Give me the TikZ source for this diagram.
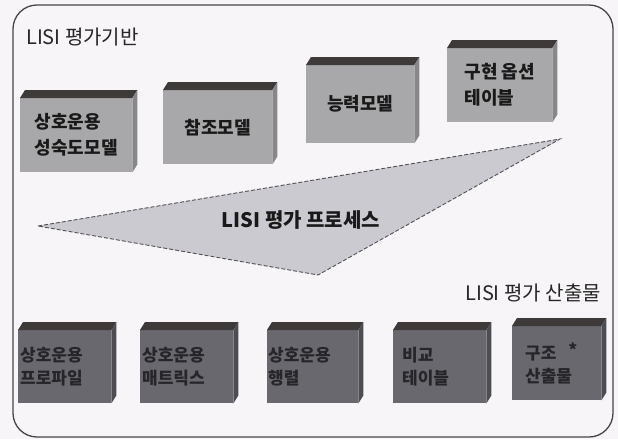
\documentclass[tikz,border=0pt]{standalone}
\usepackage{fontspec}
\setmainfont{Noto Sans CJK KR}
\usetikzlibrary{calc}
\definecolor{bg}{RGB}{247,245,247}
\definecolor{framec}{RGB}{70,70,72}
\definecolor{topfront}{RGB}{168,168,170}
\definecolor{topside}{RGB}{135,135,138}
\definecolor{botfront}{RGB}{104,104,110}
\definecolor{botside}{RGB}{76,76,82}
\definecolor{stripc}{RGB}{62,58,58}
\definecolor{trifill}{RGB}{202,202,208}
\definecolor{tridash}{RGB}{80,80,85}
\definecolor{bottext}{RGB}{38,38,42}
\newcommand\cubefaces[3]{%
  \fill[#2] (#1.north west) -- ++(5,-8) -- ($(#1.north east)+(5,-8)$) -- (#1.north east) -- cycle;
  \fill[#3] (#1.north east) -- ++(5,-8) -- ($(#1.south east)+(5,-8)$) -- (#1.south east) -- cycle;}
\tikzset{
  tbox/.style={fill=topfront, anchor=north west, inner sep=0pt, align=left,
    font=\fontsize{18}{26}\selectfont\bfseries, text=black!90},
  bbox/.style={fill=botfront, anchor=north west, inner ysep=0pt, align=left,
    font=\fontsize{17}{23}\selectfont\bfseries, text=bottext},
  lbl/.style={font=\fontsize{20}{24}\selectfont, text=black!85, inner sep=0pt},
  tri/.style={fill=trifill, draw=tridash, line width=0.9pt, dash pattern=on 4pt off 2pt},
  frame/.style={draw=framec, line width=1.3pt, rounded corners=24pt}
}
\begin{document}
\begin{tikzpicture}[x=1pt,y=-1pt]
\useasboundingbox (0,0) rectangle (618,439);
\fill[bg] (0,0) rectangle (618,439);
\draw[frame] (13,5) rectangle (613,437);

% labels
\node[lbl, anchor=west] (base) at (26,37) {LISI 평가기반};
\node[lbl, anchor=east] (prod) at (601,293) {LISI 평가 산출물};

% process triangle
\coordinate (pa) at (38,226);
\coordinate (pb) at (560,139);
\coordinate (pc) at (318,275);
\path[tri] (pa) -- (pb) -- (pc) -- cycle;
\node[lbl, font=\fontsize{20}{24}\selectfont\bfseries, text=black!90] (proc) at (301,220) {LISI 평가 프로세스};

% top boxes
\node[tbox, minimum width=112pt, minimum height=74pt] (t1) at (20,98) {상호운용\\성숙도모델};
\node[tbox, minimum width=109pt, minimum height=74pt] (t2) at (163,90) {참조모델};
\node[tbox, minimum width=108pt, minimum height=78pt] (t3) at (306,65) {능력모델};
\node[tbox, minimum width=105pt, minimum height=74pt] (t4) at (447,48) {구현 옵션\\테이블};
\foreach \n in {t1,t2,t3,t4} {\cubefaces{\n}{stripc}{topside}}

% bottom boxes
\node[bbox, minimum width=93pt, minimum height=73pt, inner xsep=2pt, text width=89pt] (b1) at (18,330) {상호운용\\프로파일};
\node[bbox, minimum width=93pt, minimum height=73pt, inner xsep=2pt, text width=89pt] (b2) at (140,330) {상호운용\\매트릭스};
\node[bbox, minimum width=91pt, minimum height=73pt, inner xsep=1pt, text width=89pt] (b3) at (267,330) {상호운용\\행렬};
\node[bbox, minimum width=93pt, minimum height=73pt, inner xsep=9pt, text width=75pt] (b4) at (393,330) {비교\\테이블};
\node[bbox, minimum width=89pt, minimum height=74pt, inner xsep=13pt, text width=63pt] (b5) at (512,326) {구조\hspace{12pt}\raisebox{3pt}{*}\\산출물};
\foreach \n in {b1,b2,b3,b4,b5} {\cubefaces{\n}{stripc}{botside}}
\end{tikzpicture}
\end{document}
